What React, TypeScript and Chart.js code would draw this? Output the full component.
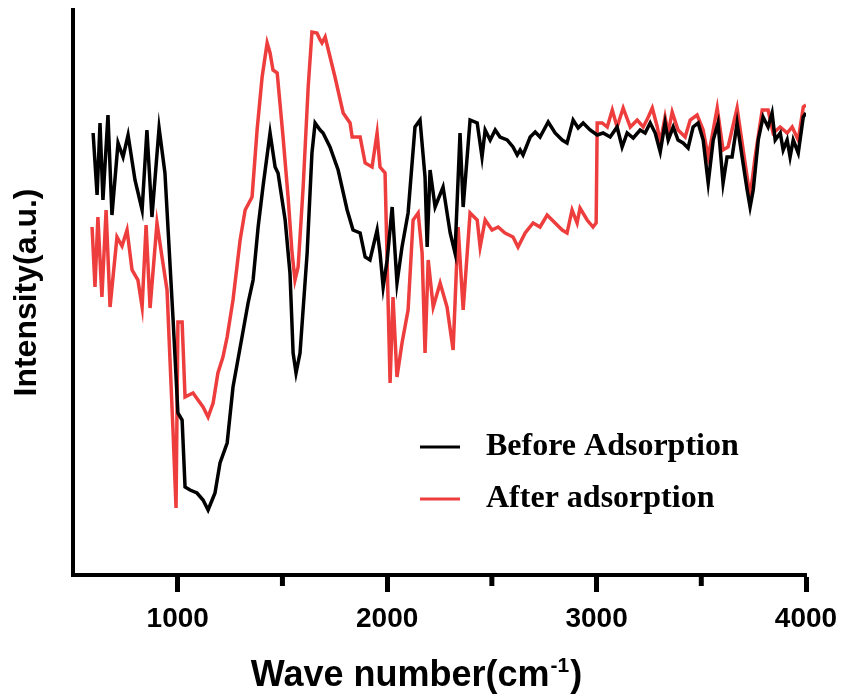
import React, { useEffect, useRef } from 'react';
import { Chart, registerables } from 'chart.js';

Chart.register(...registerables);

// Wavenumbers (cm^-1) and intensities (a.u.)
const beforeWave = [
  596, 615, 629, 643, 667, 686, 715, 739, 763, 796,
  830, 853, 877, 911, 939, 978, 1001, 1021, 1035, 1059,
  1092, 1121, 1145, 1178, 1202, 1236, 1264, 1307, 1336, 1360,
  1384, 1407, 1441, 1465, 1479, 1513, 1536, 1551, 1565, 1584,
  1618, 1641, 1656, 1680, 1694, 1727, 1766, 1809, 1837, 1871,
  1895, 1918, 1952, 1966, 1981, 2000, 2024, 2047, 2071, 2100,
  2133, 2157, 2181, 2191, 2205, 2229, 2267, 2301, 2324, 2348,
  2363, 2396, 2430, 2453, 2468, 2492, 2516, 2539, 2573, 2601,
  2621, 2635, 2649, 2683, 2707, 2730, 2769, 2802, 2836, 2859,
  2888, 2912, 2936, 2969, 3003, 3031, 3065, 3098, 3122, 3146,
  3175, 3208, 3232, 3256, 3280, 3304, 3327, 3342, 3366, 3389,
  3413, 3437, 3461, 3485, 3509, 3533, 3557, 3580, 3604, 3623,
  3647, 3671, 3695, 3719, 3733, 3748, 3772, 3795, 3819, 3838,
  3853, 3877, 3891, 3910, 3924, 3939, 3963, 3987, 4000,
];
const beforeIntensity = [
  442, 380, 452, 375, 460, 360, 432, 418, 440, 395,
  365, 445, 358, 447, 402, 255, 162, 155, 88, 85,
  82, 75, 65, 82, 112, 132, 188, 238, 272, 295,
  348, 388, 442, 408, 402, 355, 302, 222, 202, 222,
  322, 422, 452, 445, 442, 428, 405, 365, 345, 342,
  318, 315, 345, 322, 288, 315, 368, 292, 328, 362,
  448, 455, 398, 328, 405, 368, 388, 342, 322, 442,
  368, 455, 452, 418, 445, 435, 445, 438, 435, 428,
  420, 425, 420, 438, 443, 438, 453, 442, 435, 432,
  455, 447, 452, 445, 440, 442, 438, 448, 428, 442,
  437, 445, 442, 452, 442, 423, 452, 435, 448, 435,
  432, 427, 448, 452, 435, 392, 435, 452, 392, 418,
  418, 452, 418, 385, 368, 385, 435, 458, 448, 462,
  435, 442, 425, 435, 418, 435, 422, 458, 462,
];

const afterWave = [
  591, 605, 619, 638, 658, 677, 710, 734, 758, 782,
  810, 830, 849, 868, 901, 925, 949, 978, 992, 1001,
  1021, 1035, 1073, 1097, 1121, 1145, 1169, 1192, 1216, 1236,
  1264, 1298, 1322, 1355, 1379, 1403, 1427, 1441, 1455, 1475,
  1503, 1527, 1546, 1560, 1575, 1599, 1623, 1641, 1665, 1680,
  1689, 1704, 1751, 1790, 1823, 1833, 1871, 1895, 1928, 1952,
  1966, 1990, 2004, 2014, 2028, 2047, 2071, 2100, 2124, 2148,
  2167, 2181, 2196, 2220, 2253, 2286, 2315, 2339, 2363, 2396,
  2430, 2444, 2468, 2501, 2530, 2563, 2601, 2625, 2659, 2697,
  2730, 2764, 2802, 2836, 2859, 2883, 2907, 2921, 2955, 2983,
  2998, 3003, 3027, 3051, 3075, 3098, 3127, 3161, 3194, 3223,
  3247, 3266, 3290, 3304, 3327, 3342, 3361, 3389, 3423, 3447,
  3480, 3509, 3533, 3557, 3576, 3604, 3628, 3671, 3700, 3733,
  3757, 3791, 3819, 3843, 3877, 3910, 3934, 3963, 3987, 4000,
];
const afterIntensity = [
  348, 288, 358, 278, 365, 268, 338, 329, 345, 305,
  295, 268, 350, 267, 352, 318, 285, 142, 67, 253,
  253, 178, 182, 175, 168, 158, 172, 202, 218, 238,
  275, 335, 365, 378, 445, 498, 532, 522, 505, 502,
  438, 378, 322, 295, 308, 388, 488, 543, 542, 535,
  532, 538, 498, 462, 452, 438, 438, 412, 408, 442,
  408, 402, 278, 192, 278, 198, 232, 265, 355, 362,
  322, 222, 315, 268, 292, 268, 225, 348, 265, 362,
  355, 328, 355, 345, 348, 342, 338, 328, 342, 352,
  348, 360, 352, 345, 342, 365, 352, 367, 355, 348,
  352, 452, 452, 448, 465, 448, 467, 448, 455, 448,
  458, 467, 448, 432, 458, 442, 463, 445, 438, 455,
  460, 445, 418, 445, 467, 425, 428, 467, 425, 378,
  418, 465, 465, 442, 448, 442, 448, 435, 468, 470,
];

const seriesLabels = ['Before Adsorption', 'After adsorption'];
const seriesColors = ['#000000', '#ee3d3d'];
const majorTicks = [1000, 2000, 3000, 4000];
const minorTicks = [1500, 2500, 3500];
const xTitleMain = 'Wave number(cm';
const xTitleSup = '-1';
const xTitleEnd = ')';
const yTitle = 'Intensity(a.u.)';

const SANS = '"Liberation Sans", Arial, sans-serif';
const SERIF = '"Liberation Serif", "Times New Roman", serif';

const zip = (xs: number[], ys: number[]) => xs.map((x, i) => ({ x, y: ys[i] }));

const extrasPlugin = {
  id: 'extras',
  afterDraw(chart: any) {
    const ctx = chart.ctx;
    const xs = chart.scales.x;
    const area = chart.chartArea;
    ctx.save();
    // minor ticks
    ctx.strokeStyle = '#000';
    ctx.lineWidth = 5;
    minorTicks.forEach((v) => {
      const px = xs.getPixelForValue(v);
      ctx.beginPath();
      ctx.moveTo(px, xs.top);
      ctx.lineTo(px, xs.top + 11);
      ctx.stroke();
    });
    // x title with superscript
    ctx.fillStyle = '#000';
    ctx.textBaseline = 'alphabetic';
    ctx.textAlign = 'left';
    ctx.font = `bold 36px ${SANS}`;
    const w1 = ctx.measureText(xTitleMain).width;
    const w3 = ctx.measureText(xTitleEnd).width;
    ctx.font = `bold 21px ${SANS}`;
    const w2 = ctx.measureText(xTitleSup).width;
    const total = w1 + w2 + w3;
    const cx = (area.left + area.right) / 2 - 24;
    const start = cx - total / 2;
    const base = 686;
    ctx.font = `bold 36px ${SANS}`;
    ctx.fillText(xTitleMain, start, base);
    ctx.font = `bold 21px ${SANS}`;
    ctx.fillText(xTitleSup, start + w1 + 1, base - 14);
    ctx.font = `bold 36px ${SANS}`;
    ctx.fillText(xTitleEnd, start + w1 + w2 + 2, base);
    // legend
    chart.data.datasets.forEach((ds: any, i: number) => {
      const y = 447 + i * 52;
      ctx.strokeStyle = ds.borderColor;
      ctx.lineWidth = 3;
      ctx.beginPath();
      ctx.moveTo(420, y);
      ctx.lineTo(460, y);
      ctx.stroke();
      ctx.fillStyle = '#000';
      ctx.font = `bold 32px ${SERIF}`;
      ctx.textBaseline = 'middle';
      ctx.fillText(ds.label, 486, y);
    });
    ctx.restore();
  },
};

export default function App() {
  const ref = useRef<HTMLCanvasElement | null>(null);
  useEffect(() => {
    if (!ref.current) return;
    const chart = new Chart(ref.current, {
      type: 'line',
      data: {
        datasets: [
          {
            label: seriesLabels[0],
            data: zip(beforeWave, beforeIntensity),
            borderColor: seriesColors[0],
            borderWidth: 3.5,
            pointRadius: 0,
            tension: 0,
            fill: false,
          },
          {
            label: seriesLabels[1],
            data: zip(afterWave, afterIntensity),
            borderColor: seriesColors[1],
            borderWidth: 3.5,
            pointRadius: 0,
            tension: 0,
            fill: false,
          },
        ],
      },
      options: {
        animation: false,
        responsive: false,
        layout: { padding: { left: 0, top: 10, right: 37, bottom: 0 } },
        plugins: { legend: { display: false }, tooltip: { enabled: false } },
        scales: {
          x: {
            type: 'linear',
            min: 500,
            max: 4000,
            afterFit: (s: any) => {
              s.height = 121;
              s.paddingLeft = 0;
              s.paddingRight = 0;
            },
            border: { display: true, color: '#000', width: 4 },
            grid: {
              display: true,
              drawOnChartArea: false,
              drawTicks: true,
              tickLength: 17,
              tickWidth: 5,
              tickColor: (c: any) => (c.tick && majorTicks.includes(c.tick.value) ? '#000' : 'rgba(0,0,0,0)'),
            },
            ticks: {
              stepSize: 500,
              autoSkip: false,
              maxRotation: 0,
              padding: 10,
              color: '#000',
              font: { family: SANS, size: 28, weight: 'bold' },
              callback: (v: any) => (majorTicks.includes(Number(v)) ? String(v) : ''),
            },
          },
          y: {
            type: 'linear',
            min: 0,
            max: 565,
            afterFit: (s: any) => { s.width = 73; },
            border: { display: true, color: '#000', width: 4 },
            grid: { display: false },
            ticks: { display: false },
            title: {
              display: true,
              text: yTitle,
              color: '#000',
              font: { family: SANS, size: 32, weight: 'bold' },
              padding: { top: 8, bottom: 0 },
            },
          },
        },
      },
      plugins: [extrasPlugin],
    } as any);
    return () => chart.destroy();
  }, []);
  return (
    <div style={{ position: 'absolute', left: 0, top: 0, width: 843, height: 696, background: '#fff' }}>
      <canvas ref={ref} width={843} height={696} />
    </div>
  );
}
